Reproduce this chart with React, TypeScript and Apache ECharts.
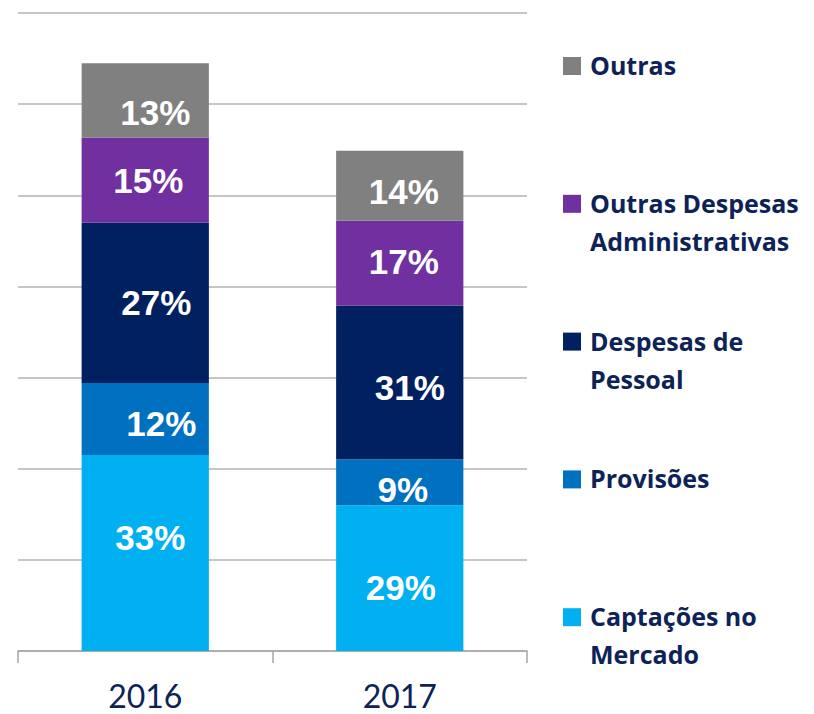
import React, { useEffect, useRef } from "react";
import * as echarts from "echarts";

const categories = ["2016", "2017"];

const seriesNames = [
  "Captações no\nMercado",
  "Provisões",
  "Despesas de\nPessoal",
  "Outras Despesas\nAdministrativas",
  "Outras",
];
const seriesColors = ["#00B0F0", "#0070C0", "#002060", "#7030A0", "#808080"];

// bar segment sizes (chart units)
const captacoes = [2.15, 1.6];
const provisoes = [0.79, 0.505];
const pessoal = [1.76, 1.685];
const adm = [0.93, 0.93];
const outras = [0.82, 0.77];

// printed percentage labels
const pctCaptacoes = [33, 29];
const pctProvisoes = [12, 9];
const pctPessoal = [27, 31];
const pctAdm = [15, 17];
const pctOutras = [13, 14];

const yTicks = [0, 1, 2, 3, 4, 5, 6, 7];

export default function App() {
  const ref = useRef<HTMLDivElement>(null);

  useEffect(() => {
    if (!ref.current) return;
    const chart = echarts.init(ref.current, undefined, { renderer: "svg" });

    const values = [captacoes, provisoes, pessoal, adm, outras];
    const pcts = [pctCaptacoes, pctProvisoes, pctPessoal, pctAdm, pctOutras];
    // manual label nudges as in the original slide
    const nudges = [
      [[5, -16], [1, 9]],
      [[16, 4], [3, 7]],
      [[11, 0], [10, 5]],
      [[3, 0], [4, -2]],
      [[10, 12], [4, 6]],
    ];

    const series = values.map((vals, si) => ({
      name: seriesNames[si],
      type: "bar",
      stack: "total",
      barWidth: "50%",
      itemStyle: { color: seriesColors[si] },
      data: vals.map((v, i) => ({
        value: v,
        label: { offset: nudges[si][i] },
      })),
      label: {
        show: true,
        position: "inside",
        color: "#ffffff",
        fontFamily: "Liberation Sans, Arial, sans-serif",
        fontWeight: "bold",
        fontSize: 35,
        formatter: (p: any) => pcts[si][p.dataIndex] + "%",
      },
    }));

    const legendStartY = 66;
    const legendStep = 137.8;
    const legendItems: any[] = [];
    for (let k = 0; k < seriesNames.length; k++) {
      const si = seriesNames.length - 1 - k;
      const cy = legendStartY + k * legendStep;
      legendItems.push({
        type: "rect",
        shape: { x: 563, y: cy - 9, width: 18, height: 18 },
        style: { fill: seriesColors[si] },
      });
      legendItems.push({
        type: "text",
        x: 590,
        y: cy - 20,
        style: {
          text: seriesNames[si],
          fill: "#0D2358",
          fontFamily: "Open Sans, sans-serif",
          fontWeight: "bold",
          fontSize: 25,
          lineHeight: 38,
          verticalAlign: "top",
          align: "left",
        },
      });
    }

    chart.setOption({
      animation: false,
      grid: { left: 18, right: 287, top: 13, bottom: 63, containLabel: false },
      xAxis: {
        type: "category",
        data: categories,
        axisLine: { lineStyle: { color: "#A6A6A6", width: 1.5 } },
        axisTick: { show: true, length: 12, lineStyle: { color: "#A6A6A6", width: 1.5 } },
        axisLabel: {
          color: "#0D2358",
          fontFamily: "Lato, sans-serif",
          fontSize: 32,
          margin: 28,
        },
      },
      yAxis: {
        type: "value",
        min: yTicks[0],
        max: yTicks[yTicks.length - 1],
        interval: 1,
        axisLabel: { show: false },
        axisLine: { show: false },
        axisTick: { show: false },
        splitLine: { lineStyle: { color: "#B3B3B3", width: 1.5 } },
      },
      series,
      graphic: legendItems,
    });

    return () => chart.dispose();
  }, []);

  return (
    <div
      ref={ref}
      style={{ position: "absolute", left: 0, top: 0, width: 814, height: 714, background: "#fff" }}
    />
  );
}
